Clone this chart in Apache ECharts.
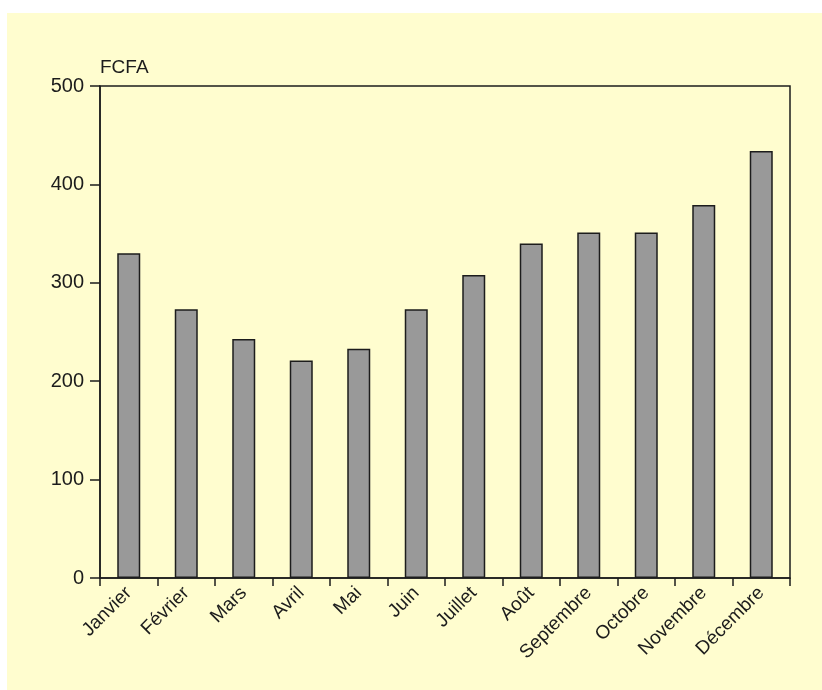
<!DOCTYPE html>
<html>
<head>
<meta charset="utf-8">
<script src="https://cdn.jsdelivr.net/npm/echarts@6/dist/echarts.min.js"></script>
<style>
  html, body { margin: 0; padding: 0; background: #ffffff; width: 822px; height: 690px; overflow: hidden; }
  #chart { position: absolute; left: 7px; top: 13px; width: 815px; height: 677px; }
</style>
</head>
<body>
<div id="chart"></div>
<script>
const months = ['Janvier', 'Février', 'Mars', 'Avril', 'Mai', 'Juin', 'Juillet', 'Août', 'Septembre', 'Octobre', 'Novembre', 'Décembre'];
const prices = [330, 273, 243, 221, 233, 273, 308, 340, 351, 351, 379, 434];
const unitLabel = 'FCFA';

const chart = echarts.init(document.getElementById('chart'));
const ink = '#1c1c1c';
const font = "'Liberation Sans', Arial, sans-serif";

chart.setOption({
  backgroundColor: '#fffdcf',
  animation: false,
  grid: {
    left: 93, right: 32, top: 73, bottom: 112,
    show: true, borderColor: ink, borderWidth: 1.5, backgroundColor: 'transparent'
  },
  xAxis: {
    type: 'category',
    data: months,
    boundaryGap: true,
    axisLine: { lineStyle: { color: ink, width: 1.5 } },
    axisTick: { show: true, alignWithLabel: false, length: 8, lineStyle: { color: ink, width: 1.5 } },
    axisLabel: { color: ink, fontFamily: font, fontSize: 19, rotate: 45, margin: 12, interval: 0 }
  },
  yAxis: {
    type: 'value',
    min: 0, max: 500, interval: 100,
    name: unitLabel,
    nameLocation: 'end',
    nameGap: 9,
    nameTextStyle: { color: ink, fontFamily: font, fontSize: 19, align: 'left', verticalAlign: 'bottom' },
    axisLine: { show: true, lineStyle: { color: ink, width: 1.5 } },
    axisTick: { show: true, length: 10, lineStyle: { color: ink, width: 1.5 } },
    axisLabel: { color: ink, fontFamily: font, fontSize: 20, margin: 16 },
    splitLine: { show: false }
  },
  series: [{
    type: 'bar',
    data: prices,
    barWidth: '40%',
    itemStyle: { color: '#999999', borderColor: ink, borderWidth: 1.5 }
  }]
});
</script>
</body>
</html>
